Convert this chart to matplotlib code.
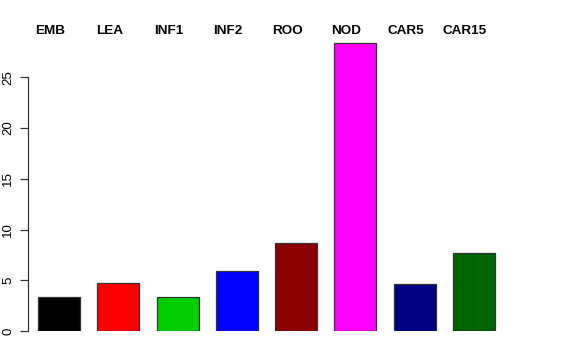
import numpy as np
import matplotlib
matplotlib.use("Agg")
import matplotlib.pyplot as plt
from matplotlib.transforms import blended_transform_factory

plt.rcParams['font.family'] = ['Liberation Sans', 'DejaVu Sans']

tissues = ["EMB", "LEA", "INF1", "INF2", "ROO", "NOD", "CAR5", "CAR15"]
values = [3.32, 4.76, 3.32, 5.88, 8.7, 28.37, 4.62, 7.72]
colors = ["#000000", "#FF0000", "#00CD00", "#0000FF",
          "#8B0000", "#FF00FF", "#000080", "#006400"]
yticks = [0, 5, 10, 15, 20, 25]

W, H = 576, 360
fig = plt.figure(figsize=(W / 100, H / 100), dpi=100)

# axes placed so that y=0 sits at pixel 331 and 25 at pixel 77
px_per_unit = (331 - 77.3) / 25
ax_left, ax_right = 28, 560
ax_bottom, ax_top = 331, 20
ax = fig.add_axes([ax_left / W, (H - ax_bottom) / H,
                   (ax_right - ax_left) / W, (ax_bottom - ax_top) / H])

step = 59.3
x0 = (59 - ax_left) / step
x = np.arange(len(tissues))
ax.bar(x, values, width=42 / step, color=colors, edgecolor="#333333",
       linewidth=0.9)
ax.set_xlim(-x0, (ax_right - 59) / step)
ax.set_ylim(0, (ax_bottom - ax_top) / px_per_unit)

for s in ["top", "right", "bottom"]:
    ax.spines[s].set_visible(False)
ax.spines["left"].set_bounds(0, 25)
ax.spines["left"].set_color("#333333")
ax.spines["left"].set_linewidth(0.9)
ax.set_xticks([])
ax.set_yticks(yticks)
ax.set_yticklabels([str(t) for t in yticks], rotation=90, va="center",
                   fontsize=9.5)
ax.tick_params(axis="y", length=6, width=0.9, color="#333333", pad=4)

# names sit above the bars, shifted a little to the left
trans = blended_transform_factory(ax.transData, fig.transFigure)
for i, name in enumerate(tissues):
    ax.text(i - 9 / step, (H - 31) / H, name, transform=trans,
            ha="center", va="center", fontsize=9.7, fontweight="bold",
            clip_on=False)

fig.savefig("out.png", dpi=100)
